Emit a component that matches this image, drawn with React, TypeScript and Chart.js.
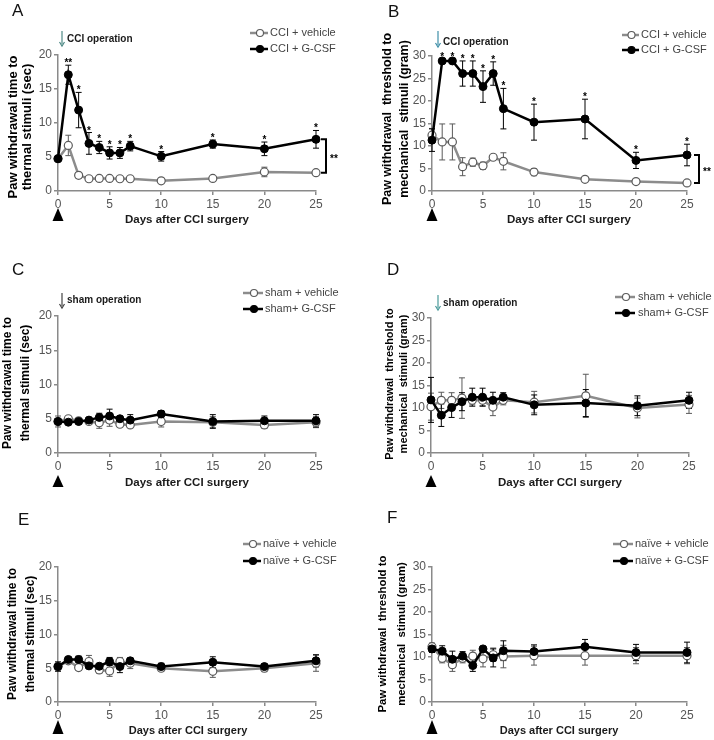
import React, { useEffect, useRef } from "react";
import { Chart, registerables } from "chart.js";
Chart.register(...registerables);

const FONT = "'Liberation Sans', Arial, Helvetica, sans-serif";

// ---------- data ----------
const days = [0, 1, 2, 3, 4, 5, 6, 7, 10, 15, 20, 25];
const xTickValues = [0, 5, 10, 15, 20, 25];

// Panel A: thermal, CCI
const aGcsf = [4.75, 17.1, 11.9, 7.0, 6.4, 5.6, 5.6, 6.6, 5.1, 6.9, 6.2, 7.6];
const aGcsfErr = [0.3, 1.4, 2.6, 1.6, 0.9, 0.9, 0.8, 0.7, 0.7, 0.6, 1.0, 1.3];
const aVeh = [4.75, 6.7, 2.3, 1.8, 1.85, 1.85, 1.8, 1.8, 1.5, 1.85, 2.8, 2.7];
const aVehErr = [0.3, 1.5, 0.4, 0.2, 0.4, 0.3, 0.2, 0.2, 0.2, 0.2, 0.7, 0.2];
const aStars = ["", "**", "*", "*", "*", "*", "*", "*", "*", "*", "*", "*"];

// Panel B: mechanical, CCI
const bGcsf = [11.3, 28.9, 28.9, 26.1, 26.1, 23.2, 26.1, 18.3, 15.3, 16.0, 6.8, 8.0];
const bGcsfErr = [2.5, 0.4, 0.4, 2.8, 2.8, 3.5, 2.6, 4.5, 4.0, 4.4, 1.8, 2.4];
const bVeh = [12.4, 10.9, 10.9, 5.4, 6.4, 5.6, 7.5, 6.6, 4.2, 2.6, 2.1, 1.8];
const bVehErr = [1.5, 4.0, 4.0, 2.0, 0.9, 0.8, 0.3, 1.9, 0.8, 0.3, 0.3, 0.3];
const bStars = ["", "*", "*", "*", "*", "*", "*", "*", "*", "*", "*", "*"];

// Panel C: thermal, sham
const cGcsf = [4.6, 4.5, 4.6, 4.8, 5.2, 5.4, 5.0, 4.8, 5.7, 4.6, 4.7, 4.7];
const cGcsfErr = [0.3, 0.2, 0.3, 0.3, 0.6, 1.0, 0.3, 0.8, 0.5, 1.0, 0.7, 0.9];
const cVeh = [4.6, 5.0, 4.7, 4.6, 4.4, 4.8, 4.2, 4.1, 4.6, 4.5, 4.1, 4.5];
const cVehErr = [0.8, 0.2, 0.4, 0.3, 0.8, 0.9, 0.2, 0.3, 0.8, 0.8, 0.5, 0.8];

// Panel D: mechanical, sham
const dGcsf = [11.8, 8.4, 10.1, 11.4, 12.4, 12.4, 11.7, 12.4, 10.7, 11.1, 10.5, 11.7];
const dGcsfErr = [5.0, 2.5, 2.2, 2.0, 2.0, 2.0, 1.8, 1.0, 2.2, 3.0, 2.2, 1.8];
const dVeh = [10.3, 11.7, 11.7, 12.2, 11.7, 11.7, 10.2, 11.7, 11.3, 12.7, 10.0, 10.8];
const dVehErr = [3.0, 1.8, 1.7, 4.5, 1.0, 1.2, 1.9, 1.0, 2.4, 4.8, 2.2, 2.0];

// Panel E: thermal, naive
const eGcsf = [5.25, 6.3, 6.3, 5.35, 5.3, 6.0, 5.25, 6.1, 5.25, 5.9, 5.25, 6.1];
const eGcsfErr = [0.7, 0.3, 0.5, 0.3, 0.3, 0.6, 0.9, 0.3, 0.5, 0.8, 0.4, 0.9];
const eVeh = [5.25, 6.1, 5.1, 6.0, 4.75, 4.6, 6.0, 5.75, 5.0, 4.55, 5.0, 5.75];
const eVehErr = [0.5, 0.3, 0.4, 0.9, 0.5, 0.8, 0.6, 0.8, 0.4, 0.9, 0.5, 1.2];

// Panel F: mechanical, naive
const fGcsf = [11.8, 11.3, 9.5, 10.2, 8.1, 11.8, 9.8, 11.4, 11.2, 12.3, 11.0, 11.0];
const fGcsfErr = [0.8, 1.2, 1.8, 1.0, 1.3, 0.5, 2.0, 2.2, 1.5, 1.6, 1.8, 2.3];
const fVeh = [12.3, 9.7, 8.3, 9.7, 10.2, 9.6, 10.5, 10.1, 10.3, 10.3, 10.3, 10.3];
const fVehErr = [0.8, 1.0, 1.5, 1.0, 1.3, 1.8, 1.5, 2.5, 2.1, 2.1, 1.8, 1.8];

const thermalTitle = ["Paw withdrawal time to", "thermal stimuli (sec)"];
const mechTitle = ["Paw withdrawal  threshold to", "mechanical  stimuli (gram)"];
const xTitleText = "Days after CCI surgery";

// ---------- layout ----------
interface PanelDef {
  box: [number, number, number, number];
  area: [number, number, number, number];
  yMax: number;
  gcsf: number[]; gcsfErr: number[]; veh: number[]; vehErr: number[];
  gcsfLabel: string; vehLabel: string;
  stars?: string[];
  bracketX?: number;
  letter: [string, number, number];
  op?: { text: string; x: number; y1: number; y2: number; ty: number; color: string };
  legend: { x1: number; x2: number; tx: number; y1: number; y2: number };
  yTitle: { lines: string[]; x1: number; x2: number; yc: number; size: number };
  xTitle: { x: number; y: number; size: number };
  tri: { off: number; h: number };
}

const panels: PanelDef[] = [
  {
    box: [0, 0, 357, 240], area: [58, 55, 316, 191], yMax: 20,
    gcsf: aGcsf, gcsfErr: aGcsfErr, veh: aVeh, vehErr: aVehErr,
    gcsfLabel: "CCI + G-CSF", vehLabel: "CCI + vehicle", stars: aStars, bracketX: 326,
    letter: ["A", 12, 16],
    op: { text: "CCI operation", x: 62, y1: 31, y2: 46, ty: 39, color: "#4f8a86" },
    legend: { x1: 250, x2: 268, tx: 270, y1: 33, y2: 49 },
    yTitle: { lines: thermalTitle, x1: 13, x2: 27, yc: 127, size: 13 },
    xTitle: { x: 187, y: 220, size: 11.5 }, tri: { off: 17, h: 13 },
  },
  {
    box: [357, 0, 357, 240], area: [432, 56, 687, 191], yMax: 30,
    gcsf: bGcsf, gcsfErr: bGcsfErr, veh: bVeh, vehErr: bVehErr,
    gcsfLabel: "CCI + G-CSF", vehLabel: "CCI + vehicle", stars: bStars, bracketX: 699,
    letter: ["B", 388, 17],
    op: { text: "CCI operation", x: 438, y1: 31, y2: 47, ty: 42, color: "#3f8fa8" },
    legend: { x1: 622, x2: 639, tx: 641, y1: 35, y2: 50 },
    yTitle: { lines: mechTitle, x1: 388, x2: 405, yc: 119, size: 12.5 },
    xTitle: { x: 569, y: 220, size: 11.5 }, tri: { off: 17, h: 13 },
  },
  {
    box: [0, 240, 357, 250], area: [58, 316, 316, 453], yMax: 20,
    gcsf: cGcsf, gcsfErr: cGcsfErr, veh: cVeh, vehErr: cVehErr,
    gcsfLabel: "sham+ G-CSF", vehLabel: "sham + vehicle",
    letter: ["C", 12, 275],
    op: { text: "sham operation", x: 62, y1: 293, y2: 308, ty: 300, color: "#444" },
    legend: { x1: 243, x2: 263, tx: 265, y1: 293, y2: 309 },
    yTitle: { lines: thermalTitle, x1: 8, x2: 26, yc: 383, size: 12 },
    xTitle: { x: 187, y: 483, size: 11.5 }, tri: { off: 22, h: 12 },
  },
  {
    box: [357, 240, 357, 250], area: [431, 318, 689, 453], yMax: 30,
    gcsf: dGcsf, gcsfErr: dGcsfErr, veh: dVeh, vehErr: dVehErr,
    gcsfLabel: "sham+ G-CSF", vehLabel: "sham + vehicle",
    letter: ["D", 387, 275],
    op: { text: "sham operation", x: 438, y1: 295, y2: 310, ty: 303, color: "#4a9a9a" },
    legend: { x1: 615, x2: 635, tx: 638, y1: 297, y2: 313 },
    yTitle: { lines: mechTitle, x1: 390, x2: 404, yc: 384, size: 11 },
    xTitle: { x: 560, y: 483, size: 11.5 }, tri: { off: 22, h: 12 },
  },
  {
    box: [0, 490, 357, 250], area: [58, 567, 316, 702], yMax: 20,
    gcsf: eGcsf, gcsfErr: eGcsfErr, veh: eVeh, vehErr: eVehErr,
    gcsfLabel: "naïve + G-CSF", vehLabel: "naïve + vehicle",
    letter: ["E", 18, 525],
    legend: { x1: 243, x2: 261, tx: 263, y1: 544, y2: 561 },
    yTitle: { lines: thermalTitle, x1: 13, x2: 31, yc: 634, size: 12 },
    xTitle: { x: 188, y: 731, size: 11 }, tri: { off: 18, h: 14 },
  },
  {
    box: [357, 490, 357, 250], area: [432, 567, 687, 702], yMax: 30,
    gcsf: fGcsf, gcsfErr: fGcsfErr, veh: fVeh, vehErr: fVehErr,
    gcsfLabel: "naïve + G-CSF", vehLabel: "naïve + vehicle",
    letter: ["F", 387, 523],
    legend: { x1: 613, x2: 633, tx: 635, y1: 544, y2: 561 },
    yTitle: { lines: mechTitle, x1: 383, x2: 402, yc: 634, size: 11.4 },
    xTitle: { x: 559, y: 731, size: 11 }, tri: { off: 18, h: 14 },
  },
];

const AXIS = "#8a8a8a";
const GRAYLINE = "#8c8c8c";
const VEH_PT = "#5a5a5a";

function makeDeco(p: PanelDef) {
  const [bl, bt] = p.box;
  return {
    id: "deco",
    beforeDatasetsDraw(chart: any) {
      const ctx = chart.ctx;
      const xs = chart.scales.x, ys = chart.scales.y;
      const drawErr = (vals: number[], errs: number[], color: string) => {
        ctx.save();
        ctx.strokeStyle = color;
        ctx.lineWidth = 1;
        days.forEach((d, i) => {
          const e = errs[i];
          if (!e) return;
          const x = xs.getPixelForValue(d);
          const yt = ys.getPixelForValue(vals[i] + e);
          const yb = ys.getPixelForValue(Math.max(0, vals[i] - e));
          ctx.beginPath();
          ctx.moveTo(x, yt); ctx.lineTo(x, yb);
          ctx.moveTo(x - 3, yt); ctx.lineTo(x + 3, yt);
          ctx.moveTo(x - 3, yb); ctx.lineTo(x + 3, yb);
          ctx.stroke();
        });
        ctx.restore();
      };
      drawErr(p.veh, p.vehErr, VEH_PT);
      drawErr(p.gcsf, p.gcsfErr, "#000");
    },
    afterDraw(chart: any) {
      const ctx = chart.ctx;
      const xs = chart.scales.x, ys = chart.scales.y;
      ctx.save();
      // stars
      if (p.stars) {
        ctx.fillStyle = "#000";
        ctx.font = `bold 10px ${FONT}`;
        ctx.textAlign = "center";
        ctx.textBaseline = "alphabetic";
        p.stars.forEach((s, i) => {
          if (!s) return;
          const x = xs.getPixelForValue(days[i]);
          const y = ys.getPixelForValue(p.gcsf[i] + p.gcsfErr[i]);
          ctx.fillText(s, x, y + 1);
        });
      }
      // triangle marker at day 0
      {
        const x = xs.getPixelForValue(0);
        const top = chart.chartArea.bottom + p.tri.off;
        ctx.fillStyle = "#000";
        ctx.beginPath();
        ctx.moveTo(x, top);
        ctx.lineTo(x + 5.5, top + p.tri.h);
        ctx.lineTo(x - 5.5, top + p.tri.h);
        ctx.closePath();
        ctx.fill();
      }
      // bracket
      if (p.bracketX !== undefined) {
        const last = days.length - 1;
        const yt = ys.getPixelForValue(p.gcsf[last]);
        const yb = ys.getPixelForValue(p.veh[last]);
        const bx = p.bracketX - bl;
        ctx.strokeStyle = "#000";
        ctx.lineWidth = 2;
        ctx.beginPath();
        ctx.moveTo(bx - 5, yt); ctx.lineTo(bx, yt); ctx.lineTo(bx, yb); ctx.lineTo(bx - 5, yb);
        ctx.stroke();
        ctx.fillStyle = "#000";
        ctx.font = `bold 10px ${FONT}`;
        ctx.textAlign = "left";
        ctx.textBaseline = "alphabetic";
        ctx.fillText("**", bx + 4, (yt + yb) / 2 + 6);
      }
      // page-coordinate decorations
      ctx.translate(-bl, -bt);
      // panel letter
      ctx.fillStyle = "#111";
      ctx.font = `17px ${FONT}`;
      ctx.textAlign = "left";
      ctx.textBaseline = "alphabetic";
      ctx.fillText(p.letter[0], p.letter[1], p.letter[2]);
      // operation arrow
      if (p.op) {
        const o = p.op;
        ctx.strokeStyle = o.color;
        ctx.fillStyle = o.color;
        ctx.lineWidth = 1.2;
        ctx.beginPath();
        ctx.moveTo(o.x, o.y1); ctx.lineTo(o.x, o.y2 - 2);
        ctx.stroke();
        ctx.beginPath();
        ctx.moveTo(o.x - 2.5, o.y2 - 4); ctx.lineTo(o.x, o.y2); ctx.lineTo(o.x + 2.5, o.y2 - 4);
        ctx.stroke();
        ctx.fillStyle = "#1a1a1a";
        ctx.font = `bold 10px ${FONT}`;
        ctx.textBaseline = "middle";
        ctx.fillText(o.text, o.x + 5, o.ty);
      }
      // legend
      const L = p.legend;
      const rows: [number, string, boolean][] = [[L.y1, p.vehLabel, false], [L.y2, p.gcsfLabel, true]];
      rows.forEach(([y, label, filled]) => {
        ctx.lineWidth = 2.5;
        ctx.strokeStyle = filled ? "#000" : GRAYLINE;
        ctx.beginPath();
        ctx.moveTo(L.x1, y); ctx.lineTo(L.x2, y);
        ctx.stroke();
        ctx.beginPath();
        ctx.arc((L.x1 + L.x2) / 2 + 1, y, 3.5, 0, Math.PI * 2);
        ctx.fillStyle = filled ? "#000" : "#fff";
        ctx.fill();
        ctx.lineWidth = 1.1;
        ctx.strokeStyle = filled ? "#000" : VEH_PT;
        ctx.stroke();
        ctx.fillStyle = "#444";
        ctx.font = `11px ${FONT}`;
        ctx.textAlign = "left";
        ctx.textBaseline = "middle";
        ctx.fillText(label, L.tx, y);
      });
      // y title
      const T = p.yTitle;
      ctx.fillStyle = "#000";
      ctx.font = `bold ${T.size}px ${FONT}`;
      ctx.textAlign = "center";
      ctx.textBaseline = "middle";
      [T.x1, T.x2].forEach((x, i) => {
        ctx.save();
        ctx.translate(x, T.yc);
        ctx.rotate(-Math.PI / 2);
        ctx.fillText(T.lines[i], 0, 0);
        ctx.restore();
      });
      // x title
      ctx.font = `bold ${p.xTitle.size}px ${FONT}`;
      ctx.fillStyle = "#1a1a1a";
      ctx.fillText(xTitleText, p.xTitle.x, p.xTitle.y);
      ctx.restore();
    },
  };
}

function Panel({ p }: { p: PanelDef }) {
  const ref = useRef<HTMLCanvasElement>(null);
  useEffect(() => {
    const [bl, bt, bw, bh] = p.box;
    const [al, at, ar, ab] = p.area;
    const left = al - bl, top = at - bt, right = ar - bl, bottom = ab - bt;
    const tickCommon = { color: "#555", font: { family: FONT, size: 12 } };
    const chart = new Chart(ref.current as HTMLCanvasElement, {
      type: "line",
      data: {
        datasets: [
          {
            label: p.gcsfLabel,
            data: days.map((d, i) => ({ x: d, y: p.gcsf[i] })),
            borderColor: "#000",
            backgroundColor: "#000",
            borderWidth: 2.5,
            pointRadius: 4,
            pointBackgroundColor: "#000",
            pointBorderColor: "#000",
            pointBorderWidth: 1,
            tension: 0,
            clip: false,
          } as any,
          {
            label: p.vehLabel,
            data: days.map((d, i) => ({ x: d, y: p.veh[i] })),
            borderColor: GRAYLINE,
            backgroundColor: "#fff",
            borderWidth: 2.5,
            pointRadius: 4,
            pointBackgroundColor: "#fff",
            pointBorderColor: VEH_PT,
            pointBorderWidth: 1.2,
            tension: 0,
            clip: false,
          } as any,
        ],
      },
      options: {
        responsive: false,
        animation: false,
        devicePixelRatio: 1,
        events: [],
        layout: { padding: { left: 0, top, right: bw - right, bottom: 0 } },
        plugins: { legend: { display: false }, tooltip: { enabled: false } },
        scales: {
          x: {
            type: "linear",
            min: 0,
            max: 25,
            afterFit: (s: any) => { s.height = bh - bottom; },
            afterBuildTicks: (s: any) => { s.ticks = xTickValues.map((v) => ({ value: v })); },
            grid: { display: true, drawOnChartArea: false, drawTicks: true, tickLength: 4, color: AXIS, lineWidth: 1.5 },
            border: { display: true, color: AXIS, width: 1.5 },
            ticks: { ...tickCommon, padding: 2, maxRotation: 0, autoSkip: false },
          },
          y: {
            type: "linear",
            min: 0,
            max: p.yMax,
            afterFit: (s: any) => { s.width = left; },
            grid: { display: true, drawOnChartArea: false, drawTicks: true, tickLength: 4, color: AXIS, lineWidth: 1.5 },
            border: { display: true, color: AXIS, width: 1.5 },
            ticks: { ...tickCommon, stepSize: 5, padding: 2 },
          },
        },
      } as any,
      plugins: [makeDeco(p)],
    });
    return () => chart.destroy();
  }, [p]);
  const [bl, bt, bw, bh] = p.box;
  return (
    <canvas
      ref={ref}
      width={bw}
      height={bh}
      style={{ position: "absolute", left: bl, top: bt, width: bw, height: bh }}
    />
  );
}

export default function App() {
  return (
    <div style={{ position: "absolute", left: 0, top: 0, width: 714, height: 740, background: "#fff", overflow: "hidden" }}>
      {panels.map((p, i) => (
        <Panel key={i} p={p} />
      ))}
    </div>
  );
}
